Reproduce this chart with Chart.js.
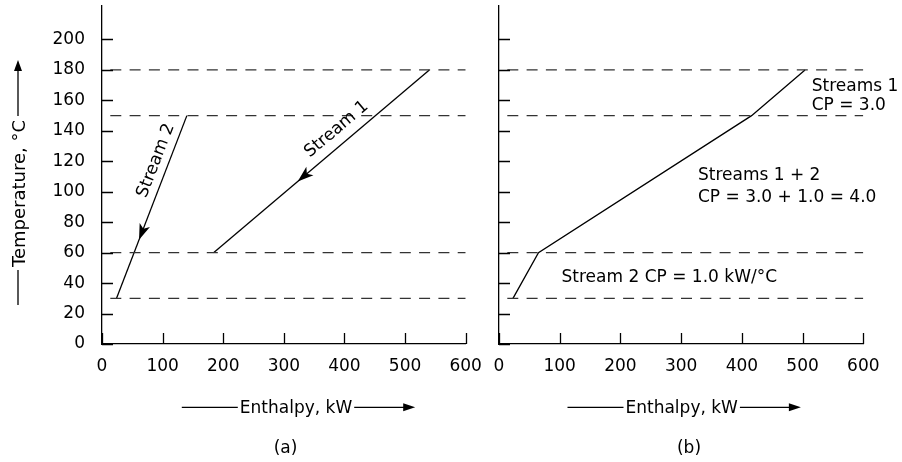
<!DOCTYPE html>
<html><head><meta charset="utf-8">
<script src="https://cdn.jsdelivr.net/npm/chart.js@4.4.1/dist/chart.umd.min.js"></script>
<style>
html,body{margin:0;padding:0;background:#fff;width:902px;height:462px;overflow:hidden;}
#wa{position:absolute;left:0;top:0;width:484px;height:462px;}
#wb{position:absolute;left:484px;top:0;width:418px;height:462px;}
</style></head><body>
<div id="wa"><canvas id="ca"></canvas></div>
<div id="wb"><canvas id="cb"></canvas></div>
<script>
// ---- data ----
const enthalpyTicks = [0, 100, 200, 300, 400, 500, 600];
const temperatureTicks = [0, 20, 40, 60, 80, 100, 120, 140, 160, 180, 200];
const intervalTemps = [30, 60, 150, 180];
const stream1H = [540, 184];
const stream1T = [180, 60];
const stream2H = [140, 24];
const stream2T = [150, 30];
const compositeH = [23, 65, 416, 504];
const compositeT = [30, 60, 150, 180];

const FONT = '"DejaVu Sans", sans-serif';
const INK = '#000';

function pts(hs, ts) { return hs.map((h, i) => ({ x: h, y: ts[i] })); }
function levelSets() {
  const hMax = enthalpyTicks[enthalpyTicks.length - 1];
  return intervalTemps.map(T => ({
    data: [{ x: 0, y: T }, { x: hMax, y: T }],
    borderColor: '#333', borderWidth: 1.3, borderDash: [11, 8.3], borderDashOffset: 11, pointRadius: 0, fill: false
  }));
}
function lineSet(hs, ts) {
  return { data: pts(hs, ts), borderColor: INK, borderWidth: 1.3, pointRadius: 0, tension: 0, fill: false };
}

function arrowHead(ctx, x, y, ang, len, half, notch) {
  ctx.save(); ctx.translate(x, y); ctx.rotate(ang);
  ctx.beginPath(); ctx.moveTo(0, 0); ctx.lineTo(-len, -half); ctx.lineTo(-len + notch, 0); ctx.lineTo(-len, half);
  ctx.closePath(); ctx.fill(); ctx.restore();
}

const deco = {
  id: 'deco',
  afterDraw(chart, args, o) {
    const ctx = chart.ctx, xs = chart.scales.x, ys = chart.scales.y, ca = chart.chartArea;
    ctx.save();
    ctx.strokeStyle = INK; ctx.fillStyle = INK; ctx.lineWidth = 1.3;
    // inward tick marks
    ctx.beginPath();
    temperatureTicks.forEach(v => { const y = Math.round(ys.getPixelForValue(v)) + 0.5; ctx.moveTo(ca.left, y); ctx.lineTo(ca.left + 11, y); });
    enthalpyTicks.forEach(v => { const x = Math.round(xs.getPixelForValue(v)) + 0.5; ctx.moveTo(x, ca.bottom); ctx.lineTo(x, ca.bottom - 11); });
    ctx.stroke();
    // flow-direction arrows on streams
    (o.flowArrows || []).forEach(a => {
      const d = chart.data.datasets[a.ds].data, p0 = d[0], p1 = d[1];
      const h = p0.x + (p1.x - p0.x) * a.t, T = p0.y + (p1.y - p0.y) * a.t;
      const x = xs.getPixelForValue(h), y = ys.getPixelForValue(T);
      const ang = Math.atan2(ys.getPixelForValue(p1.y) - ys.getPixelForValue(p0.y), xs.getPixelForValue(p1.x) - xs.getPixelForValue(p0.x));
      arrowHead(ctx, x, y, ang, 16, 5.5, 4);
    });
    // text annotations
    (o.notes || []).forEach(n => {
      const x = xs.getPixelForValue(n.h), y = ys.getPixelForValue(n.T);
      ctx.font = '17px ' + FONT;
      ctx.save(); ctx.translate(x, y);
      if (n.alongDs !== undefined) {
        const d = chart.data.datasets[n.alongDs].data;
        const lo = d[0].y < d[d.length - 1].y ? d[0] : d[d.length - 1];
        const hi = lo === d[0] ? d[d.length - 1] : d[0];
        const ang = Math.atan2(ys.getPixelForValue(hi.y) - ys.getPixelForValue(lo.y), xs.getPixelForValue(hi.x) - xs.getPixelForValue(lo.x));
        ctx.rotate(ang);
        ctx.textAlign = 'center'; ctx.textBaseline = 'middle';
        ctx.fillText(n.text, 0, 0);
      } else {
        ctx.textAlign = 'left'; ctx.textBaseline = 'alphabetic';
        ctx.fillText(n.text, 0, 6.2);
      }
      ctx.restore();
    });
    // y axis title with arrow
    if (o.yTitle) {
      const t = o.yTitle;
      ctx.font = '18px ' + FONT;
      const w = ctx.measureText(t.text).width;
      ctx.save(); ctx.translate(t.x + 7, t.cy); ctx.rotate(-Math.PI / 2);
      ctx.textAlign = 'center'; ctx.textBaseline = 'alphabetic';
      ctx.fillText(t.text, 0, 0);
      ctx.restore();
      ctx.beginPath();
      ctx.moveTo(t.x, t.bottom); ctx.lineTo(t.x, t.cy + w / 2 + 3);
      ctx.moveTo(t.x, t.cy - w / 2 - 4); ctx.lineTo(t.x, t.top + 8);
      ctx.stroke();
      arrowHead(ctx, t.x, t.top, -Math.PI / 2, 11, 4, 0);
    }
    // x axis title with arrow
    if (o.xTitle) {
      const t = o.xTitle;
      ctx.font = '17px ' + FONT;
      const w = ctx.measureText(t.text).width;
      ctx.textAlign = 'center'; ctx.textBaseline = 'alphabetic';
      ctx.fillText(t.text, t.cx, t.y + 6);
      ctx.beginPath();
      ctx.moveTo(t.cx - w / 2 - 2, t.y); ctx.lineTo(t.cx - w / 2 - 2 - t.leftLen, t.y);
      ctx.moveTo(t.cx + w / 2 + 2, t.y); ctx.lineTo(t.cx + w / 2 + 2 + t.rightLen - 8, t.y);
      ctx.stroke();
      arrowHead(ctx, t.cx + w / 2 + 2 + t.rightLen, t.y, 0, 12, 4, 0);
    }
    if (o.caption) {
      ctx.font = '17px ' + FONT; ctx.textAlign = 'center'; ctx.textBaseline = 'middle';
      ctx.fillText(o.caption.text, o.caption.cx, o.caption.y);
    }
    ctx.restore();
  }
};

function makeOptions(isLeft, rightPad, yWidth, plug) {
  return {
    responsive: true, maintainAspectRatio: false, animation: false,
    layout: { padding: { top: 6, left: 0, right: rightPad, bottom: 0 } },
    plugins: { legend: { display: false }, tooltip: { enabled: false }, deco: plug },
    scales: {
      x: {
        type: 'linear', min: 0, max: 600,
        afterBuildTicks: s => { s.ticks = enthalpyTicks.map(v => ({ value: v })); },
        grid: { display: false, drawTicks: false },
        border: { display: true, color: INK, width: 1.3 },
        ticks: { color: INK, font: { family: FONT, size: 17 }, padding: 12, maxRotation: 0, autoSkip: false },
        afterFit: s => { s.height = 118; s.paddingLeft = 0; s.paddingRight = 0; }
      },
      y: {
        type: 'linear', min: 0, max: 222,
        afterBuildTicks: s => { s.ticks = temperatureTicks.map(v => ({ value: v })); },
        grid: { display: false, drawTicks: false },
        border: { display: true, color: INK, width: 1.3 },
        ticks: { display: isLeft, color: INK, font: { family: FONT, size: 17 }, padding: 17 },
        afterFit: s => { s.width = yWidth; s.paddingTop = 0; s.paddingBottom = 0; }
      }
    }
  };
}

new Chart(document.getElementById('ca'), {
  type: 'line',
  data: { datasets: [...levelSets(), lineSet(stream1H, stream1T), lineSet(stream2H, stream2T)] },
  options: makeOptions(true, 18.3, 102, {
    flowArrows: [{ ds: 4, t: 0.61 }, { ds: 5, t: 0.68 }],
    notes: [
      { text: 'Stream 1', h: 387, T: 141, alongDs: 4 },
      { text: 'Stream 2', h: 89, T: 120.5, alongDs: 5 }
    ],
    yTitle: { text: 'Temperature, \u00B0C', x: 18, cy: 193.5, top: 60, bottom: 305 },
    xTitle: { text: 'Enthalpy, kW', cx: 296, y: 407.3, leftLen: 56, rightLen: 61 },
    caption: { text: '(a)', cx: 285.5, y: 449 }
  }),
  plugins: [deco]
});

new Chart(document.getElementById('cb'), {
  type: 'line',
  data: { datasets: [...levelSets(), lineSet(compositeH, compositeT)] },
  options: makeOptions(false, 38.7, 15, {
    notes: [
      { text: 'Streams 1', h: 515, T: 170.4 },
      { text: 'CP = 3.0', h: 515, T: 158 },
      { text: 'Streams 1 + 2', h: 327.7, T: 112 },
      { text: 'CP = 3.0 + 1.0 = 4.0', h: 327.7, T: 97.2 },
      { text: 'Stream 2 CP = 1.0 kW/\u00B0C', h: 103, T: 44.9 }
    ],
    xTitle: { text: 'Enthalpy, kW', cx: 197.7, y: 407.3, leftLen: 56, rightLen: 61 },
    caption: { text: '(b)', cx: 205, y: 449 }
  }),
  plugins: [deco]
});
</script>
</body></html>
